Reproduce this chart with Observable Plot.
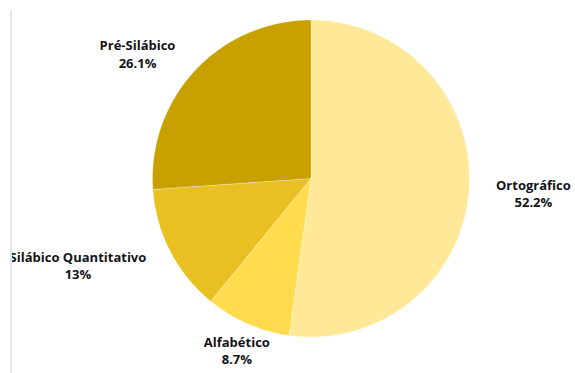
<!DOCTYPE html>
<html><head><meta charset="utf-8">
<script src="https://cdn.jsdelivr.net/npm/d3@7"></script>
<script src="https://cdn.jsdelivr.net/npm/@observablehq/plot@0.6"></script>
<style>
body{margin:0;background:#fff}
#chart{position:relative;width:575px;height:373px;overflow:hidden}
#chart::before{content:"";position:absolute;left:0;top:0;bottom:0;width:10px;background:#fff;border-right:2px solid #e6e6ee;z-index:2}
#chart::after{content:"";position:absolute;left:0;top:0;width:12px;height:10px;background:#fff;z-index:3}
#chart svg{position:absolute;left:0;top:0;z-index:1}
</style>
</head><body><div id="chart"></div>
<script>
const categories = ["Ortográfico", "Alfabético", "Silábico Quantitativo", "Pré-Silábico"];
const values = [52.2, 8.7, 13, 26.1];
const valueLabels = ["52.2%", "8.7%", "13%", "26.1%"];
const colors = ["#FFE999", "#FFDB4D", "#E8C022", "#C8A000"];

const total = d3.sum(values);
const fontSize = 13;
const ctx = document.createElement("canvas").getContext("2d");
ctx.font = `bold ${fontSize}px 'Open Sans'`;
const R = 158.5; // pixel radius for converting label widths

const slices = [];
const labels = [];
let cum = 0;
categories.forEach((name, i) => {
  const a0 = cum / total * 2 * Math.PI;
  cum += values[i];
  const a1 = cum / total * 2 * Math.PI;
  const pts = [{name, x: 0, y: 0}];
  const n = Math.max(2, Math.ceil((a1 - a0) / (Math.PI / 180)));
  for (let k = 0; k <= n; k++) {
    const a = a0 + (a1 - a0) * k / n;
    pts.push({name, x: Math.sin(a), y: Math.cos(a)});
  }
  pts.push({name, x: 0, y: 0});
  slices.push(...pts);
  const m = (a0 + a1) / 2;
  const lr = 1.17;
  const s = Math.sin(m), c = Math.cos(m);
  const w = Math.max(ctx.measureText(name).width, ctx.measureText(valueLabels[i]).width);
  let x = s * lr;
  if (Math.abs(s) >= 0.5) x += Math.sign(s) * (w / 2) / R;
  labels.push({name, text: name + "\n" + valueLabels[i], x, y: c * lr - 0.01});
});

const chart = Plot.plot({
  width: 575,
  height: 373,
  margin: 0,
  x: {domain: [-1, 1], range: [152, 469], axis: null},
  y: {domain: [-1, 1], range: [336.5, 19.5], axis: null},
  color: {domain: categories, range: colors},
  marks: [
    Plot.line(slices, {x: "x", y: "y", z: "name", fill: "name", stroke: "#fff", strokeWidth: 0.6, strokeOpacity: 0.5, curve: "linear"}),
    Plot.text(labels, {x: "x", y: "y", text: "text", textAnchor: "middle", lineAnchor: "middle", lineHeight: 1.32, fontSize, fontWeight: "bold", fontFamily: "Open Sans", fill: "#141418"})
  ]
});
document.getElementById("chart").appendChild(chart);
</script>
</body></html>
